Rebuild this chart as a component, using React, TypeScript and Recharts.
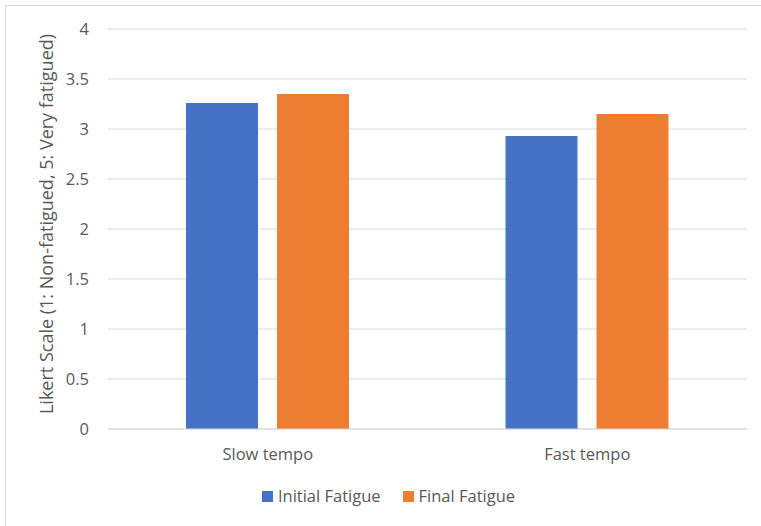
import { Bar, BarChart, CartesianGrid, XAxis, YAxis } from "recharts";

const categories = ["Slow tempo", "Fast tempo"];
const initialFatigue = [3.26, 2.93];
const finalFatigue = [3.35, 3.15];
const yTicks = [0, 0.5, 1, 1.5, 2, 2.5, 3, 3.5, 4];

const series = [
  { key: "initial", name: "Initial Fatigue", color: "#4472C4" },
  { key: "final", name: "Final Fatigue", color: "#ED7D31" },
];

const data = categories.map((name, i) => ({
  name,
  initial: initialFatigue[i],
  final: finalFatigue[i],
}));

const font = "'Open Sans', Calibri, sans-serif";
const gray = "#595959";

// plain html legend under the plot, in series order
function LegendBox() {
  return (
    <div
      style={{
        position: "absolute",
        left: 30,
        width: 717,
        top: 485,
        display: "flex",
        justifyContent: "center",
        gap: 22,
        fontSize: 16.5,
        lineHeight: "22px",
        color: gray,
      }}
    >
      {series.map((s) => (
        <div key={s.key} style={{ display: "flex", alignItems: "center", gap: 5 }}>
          <div style={{ width: 11, height: 11, background: s.color }} />
          <span>{s.name}</span>
        </div>
      ))}
    </div>
  );
}

export default function App() {
  return (
    <div
      style={{
        position: "fixed",
        left: 0,
        top: 0,
        width: 761,
        height: 526,
        overflow: "hidden",
        background: "#fff",
        fontFamily: font,
      }}
    >
      <div
        style={{
          position: "absolute",
          left: 5,
          top: 5,
          width: 800,
          height: 600,
          border: "1px solid #d9d9d9",
        }}
      />
      <div style={{ position: "absolute", left: 0, top: 0 }}>
        <BarChart
          width={761}
          height={526}
          data={data}
          margin={{ top: 29, right: 14, left: 30, bottom: 67 }}
          barSize={72}
          barGap={19}
        >
          <CartesianGrid vertical={false} stroke="#d9d9d9" strokeWidth={1} />
          <XAxis
            dataKey="name"
            axisLine={{ stroke: "#d9d9d9" }}
            tickLine={false}
            tickMargin={13}
            tick={{ fill: gray, fontSize: 16.5, fontFamily: font }}
          />
          <YAxis
            width={78}
            domain={[0, 4]}
            ticks={yTicks}
            axisLine={false}
            tickLine={false}
            tickMargin={13}
            tick={{ fill: gray, fontSize: 16.5, fontFamily: font }}
            label={{
              value: "Likert Scale (1: Non-fatigued, 5: Very fatigued)",
              angle: -90,
              position: "center",
              dx: -22,
              dy: -5,
              fill: gray,
              fontSize: 18,
              fontFamily: font,
            }}
          />
          {series.map((s) => (
            <Bar key={s.key} dataKey={s.key} name={s.name} fill={s.color} isAnimationActive={false} />
          ))}
        </BarChart>
      </div>
      <LegendBox />
    </div>
  );
}
